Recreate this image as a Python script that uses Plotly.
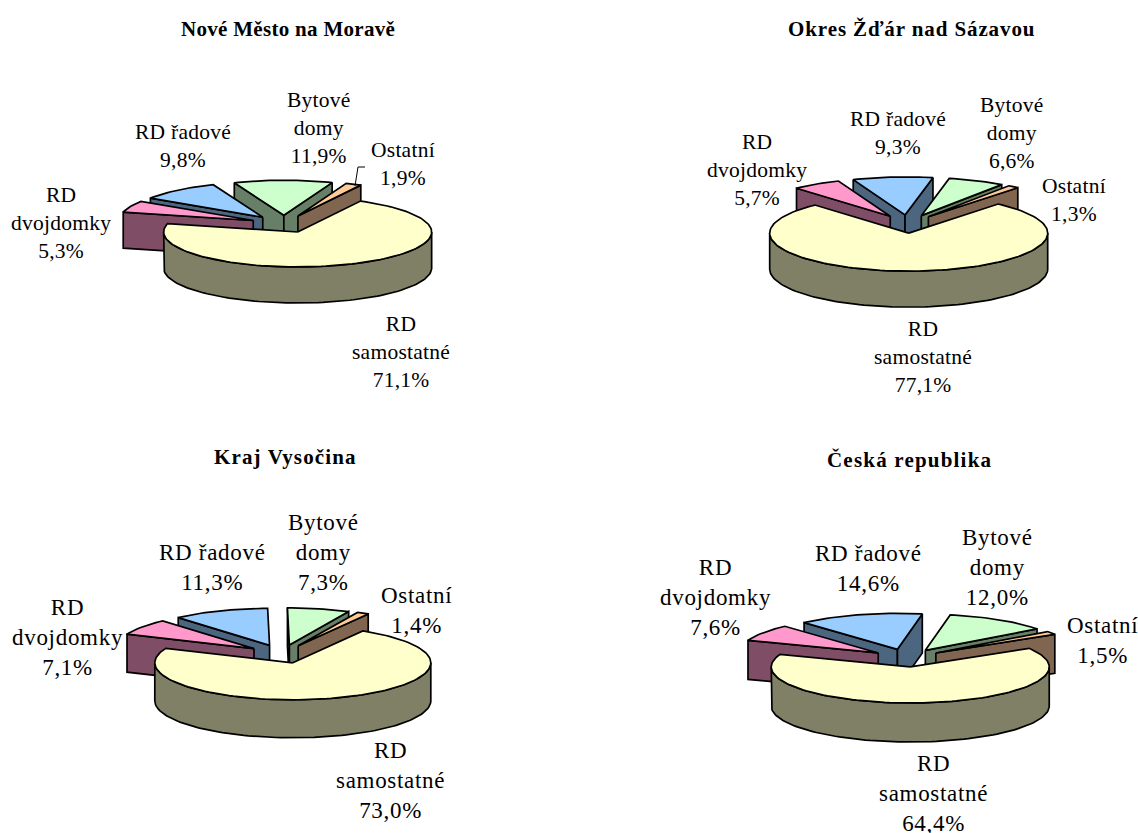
import math
import plotly.graph_objects as go

# ---- data ----
categories = ["Bytové domy", "Ostatní", "RD samostatné", "RD dvojdomky", "RD řadové"]
nove_mesto = [11.9, 1.9, 71.1, 5.3, 9.8]
okres_zdar = [6.6, 1.3, 77.1, 5.7, 9.3]
kraj_vysocina = [7.3, 1.4, 73.0, 7.1, 11.3]
ceska_republika = [12.0, 1.5, 64.4, 7.6, 14.6]
titles = ["Nové Město na Moravě", "Okres Žďár nad Sázavou", "Kraj Vysočina", "Česká republika"]
label_lines = [["Bytové", "domy"], ["Ostatní"], ["RD", "samostatné"], ["RD", "dvojdomky"], ["RD řadové"]]
series = [nove_mesto, okres_zdar, kraj_vysocina, ceska_republika]

# ---- styling / layout ----
W, H = 1138, 833
TOP = ["#CCFFCC", "#FFCC99", "#FFFFCC", "#FF99CC", "#99CCFF"]
SIDE = ["#667F66", "#806650", "#808066", "#804D66", "#4D6680"]
FONT = "Liberation Serif"
pies = [
    dict(c=(284, 224), rx=134, ry=35, d=36, e=.25, start=-21.7, title=(287.5, 29), ls=0.3, fs=21.5, lls=0.25,
         lab=[(319, 128), (403, 164), (401, 352), (61, 223), (183, 146)]),
    dict(c=(908, 224), rx=139, ry=38, d=36, e=.24, start=11.6, title=(911, 29), ls=0.9, fs=21.5, lls=0.25,
         lab=[(1012, 133), (1074, 200), (923, 357), (757, 170), (898, 133)]),
    dict(c=(282, 654), rx=138, ry=37, d=38, e=.25, start=-0.8, title=(285, 457), ls=1.15, fs=23, lls=0.7,
         lab=[(323, 552), (416, 610), (390, 780), (67, 637), (212, 567)]),
    dict(c=(907, 658), rx=139, ry=36, d=39, e=.25, start=10.3, title=(909.5, 460), ls=1.2, fs=23, lls=0.7,
         lab=[(997, 567), (1102, 640), (933, 793), (715, 597), (868, 568)]),
]
leader_x, leader_y = [355, 358, 365], [186, 167, 167]

fig = go.Figure()


def poly(xs, ys, fill):
    fig.add_trace(go.Scatter(x=xs, y=ys, mode="lines", fill="toself", fillcolor=fill,
                             line=dict(color="black", width=1.7), hoverinfo="skip",
                             showlegend=False))


def arc(a0, a1, n=None):
    n = n or max(2, int(abs(a1 - a0) / 2) + 2)
    return [a0 + (a1 - a0) * i / (n - 1) for i in range(n)]


annotations = []
for values, p, title in zip(series, pies, titles):
    cx, cy = p["c"]
    rx, ry, d, e = p["rx"], p["ry"], p["d"], p["e"]

    def pt(a, ox, oy, dz=0):
        r = math.radians(a)
        return ox + rx * math.sin(r), oy - ry * math.cos(r) + dz

    total = sum(values)
    ang = p["start"]
    slices = []
    for i, v in enumerate(values):
        sweep = v / total * 360
        slices.append((i, ang, ang + sweep))
        ang += sweep
    slices.sort(key=lambda s: -math.cos(math.radians((s[1] + s[2]) / 2)))

    for i, a0, a1 in slices:
        m = math.radians((a0 + a1) / 2)
        ox, oy = cx + e * rx * math.sin(m), cy - e * ry * math.cos(m)
        # rim (front-facing part only)
        for k in (-1, 0, 1):
            lo, hi = max(a0, 90 + 360 * k), min(a1, 270 + 360 * k)
            if hi > lo:
                top = [pt(a, ox, oy) for a in arc(lo, hi)]
                bot = [pt(a, ox, oy, d) for a in arc(hi, lo)]
                pts = top + bot + top[:1]
                poly([q[0] for q in pts], [q[1] for q in pts], SIDE[i])
        # radial walls
        walls = []
        if math.sin(math.radians(a0)) < 0:
            walls.append(a0)
        if math.sin(math.radians(a1)) > 0:
            walls.append(a1)
        for a in walls:
            q = pt(a, ox, oy)
            poly([ox, q[0], q[0], ox, ox], [oy, q[1], q[1] + d, oy + d, oy], SIDE[i])
        # top face
        rim = [pt(a, ox, oy) for a in arc(a0, a1)]
        poly([ox] + [q[0] for q in rim] + [ox], [oy] + [q[1] for q in rim] + [oy], TOP[i])

    for i, v in enumerate(values):
        txt = "<br>".join(f'<span style="letter-spacing:{p["lls"]}px">{t}</span>'
                          for t in label_lines[i] + [f"{v:.1f}%".replace(".", ",")])
        annotations.append(dict(x=p["lab"][i][0], y=p["lab"][i][1], text=txt, showarrow=False,
                                xref="x", yref="y", xanchor="center", yanchor="middle",
                                font=dict(family=FONT, size=p["fs"], color="black")))
    annotations.append(dict(x=p["title"][0], y=p["title"][1],
                            text=f'<span style="letter-spacing:{p["ls"]}px"><b>{title}</b></span>',
                            showarrow=False, xref="x", yref="y", xanchor="center", yanchor="middle",
                            font=dict(family=FONT, size=21, color="black")))

fig.add_trace(go.Scatter(x=leader_x, y=leader_y, mode="lines", line=dict(color="black", width=1),
                         hoverinfo="skip", showlegend=False))

fig.update_layout(
    width=W, height=H, margin=dict(l=0, r=0, t=0, b=0), paper_bgcolor="white", plot_bgcolor="white",
    xaxis=dict(range=[0, W], visible=False, fixedrange=True),
    yaxis=dict(range=[H, 0], visible=False, fixedrange=True),
    annotations=annotations,
)
fig.write_html("out.html", config={"displayModeBar": False},
               post_script="document.body.style.margin='0';document.body.style.overflow='hidden';")
